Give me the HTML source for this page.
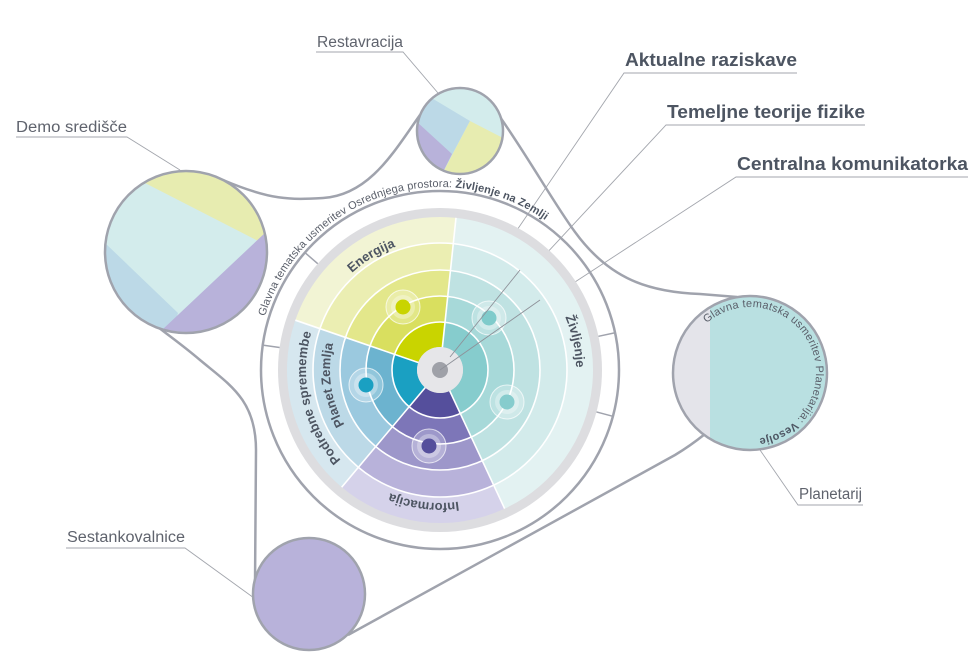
<!DOCTYPE html>
<html><head><meta charset="utf-8"><style>
html,body{margin:0;padding:0;background:#fff;}
svg{display:block;font-family:"Liberation Sans",sans-serif;}
</style></head><body>
<svg width="980" height="662" viewBox="0 0 980 662" xmlns="http://www.w3.org/2000/svg">
<defs>
<clipPath id="cd"><circle cx="186" cy="252" r="81"/></clipPath>
<clipPath id="cr"><circle cx="460" cy="131" r="43"/></clipPath>
<clipPath id="cp"><circle cx="750" cy="373" r="77"/></clipPath>
<path id="pOuter" d="M265,316.5 A183,183 0 0 1 598.5,278.5"/>
<path id="pEn" d="M309,372.3 A131,131 0 0 1 503.5,255.4"/>
<path id="pZi" d="M482,240.7 A136,136 0 0 1 531,471.1"/>
<path id="pPo" d="M400.8,498.1 A134,134 0 0 1 348.6,272"/>
<path id="pPl" d="M398.8,472 A110,110 0 0 1 372.3,283.3"/>
<path id="pIn" d="M546.2,450 A133,133 0 0 1 317.6,422"/>
<path id="pPlan" d="M706.7,323.2 A66,66 0 1 1 750,439"/>
</defs>

<g stroke="#a3a6ad" stroke-width="0.9" fill="none">
<path d="M797,73 L624,73 L515,233"/>
<path d="M865,125 L666,125 L450,357"/>
<path d="M968,177 L736,177 L440,370"/>
<path d="M316,52 L403,52 L438,93"/>
<path d="M16,137 L127,137 L180,170"/>
<path d="M66,548 L185,548 L254,598"/>
<path d="M863,505 L798,505 L760,450"/>
</g>

<g stroke="#a0a3ad" stroke-width="2.5" fill="none">
<path d="M223,180 C270,200 290,200 323,198 C370,195 395,150 420,115"/>
<path d="M500,117 C530,160 555,205 575,232 C610,280 650,292 700,294 L737,297"/>
<path d="M705,434 Q690,446 675,455 L348,635"/>
<path d="M255,585 L256,450 C256,400 230,385 200,360 C180,343 165,333 153,323"/>
</g>

<g clip-path="url(#cd)">
<rect x="100" y="165" width="175" height="175" fill="#d3ecec"/>
<polygon points="145,183 262,243 280,243 280,160 145,160" fill="#e7ecb0"/>
<polygon points="100,242 104,242 178,313 170,340 100,340" fill="#bcd9e7"/>
<polygon points="266,232 162,330 280,340 280,232" fill="#b8b2da"/>
</g>
<circle cx="186" cy="252" r="81" fill="none" stroke="#a0a3ad" stroke-width="2.5"/>

<g clip-path="url(#cr)">
<rect x="410" y="85" width="100" height="95" fill="#d3ecec"/>
<polygon points="410,85 470,121 443,172 405,172" fill="#bcd9e7"/>
<polygon points="470,121 510,141.6 510,180 439,180" fill="#e7ecb0"/>
<polygon points="405,111 452,154 439,180 405,180" fill="#b8b2da"/>
</g>
<circle cx="460" cy="131" r="43" fill="none" stroke="#a0a3ad" stroke-width="2.5"/>

<g clip-path="url(#cp)">
<rect x="670" y="290" width="170" height="170" fill="#e4e4ea"/>
<rect x="710" y="290" width="130" height="170" fill="#b9e0e1"/>
</g>
<circle cx="750" cy="373" r="77" fill="none" stroke="#a0a3ad" stroke-width="2.5"/>
<text font-size="11" fill="#5a5f6a"><textPath href="#pPlan" textLength="245">Glavna tematska usmeritev Planetarija: <tspan font-weight="bold" fill="#4d5562">Vesolje</tspan></textPath></text>

<circle cx="309" cy="594" r="56" fill="#b8b2da" stroke="#a0a3ad" stroke-width="2.5"/>

<circle cx="440" cy="370" r="179" fill="none" stroke="#a0a3ad" stroke-width="2.5"/>
<circle cx="440" cy="370" r="162" fill="#dddde0"/>
<g fill="none" transform="translate(440,370)">
<g transform="rotate(-84)">
<circle r="35.5" stroke-width="25" stroke="#86cccd" pathLength="360" stroke-dasharray="149 360"/>
<circle r="61" stroke-width="26" stroke="#a7d9d9" pathLength="360" stroke-dasharray="149 360"/>
<circle r="87" stroke-width="26" stroke="#bfe2e2" pathLength="360" stroke-dasharray="149 360"/>
<circle r="113.5" stroke-width="27" stroke="#d3ebeb" pathLength="360" stroke-dasharray="149 360"/>
<circle r="140" stroke-width="26" stroke="#e3f2f2" pathLength="360" stroke-dasharray="149 360"/>
</g>
<g transform="rotate(65)">
<circle r="35.5" stroke-width="25" stroke="#554f9c" pathLength="360" stroke-dasharray="65 360"/>
<circle r="61" stroke-width="26" stroke="#7d76b8" pathLength="360" stroke-dasharray="65 360"/>
<circle r="87" stroke-width="26" stroke="#9d97ca" pathLength="360" stroke-dasharray="65 360"/>
<circle r="113.5" stroke-width="27" stroke="#b8b2da" pathLength="360" stroke-dasharray="65 360"/>
<circle r="140" stroke-width="26" stroke="#d5d2ea" pathLength="360" stroke-dasharray="65 360"/>
</g>
<g transform="rotate(130)">
<circle r="35.5" stroke-width="25" stroke="#1aa0c2" pathLength="360" stroke-dasharray="69 360"/>
<circle r="61" stroke-width="26" stroke="#6cb3cf" pathLength="360" stroke-dasharray="69 360"/>
<circle r="87" stroke-width="26" stroke="#9bc9df" pathLength="360" stroke-dasharray="69 360"/>
<circle r="113.5" stroke-width="27" stroke="#bcd9e7" pathLength="360" stroke-dasharray="69 360"/>
<circle r="140" stroke-width="26" stroke="#d6e7ef" pathLength="360" stroke-dasharray="69 360"/>
</g>
<g transform="rotate(199)">
<circle r="35.5" stroke-width="25" stroke="#c9d400" pathLength="360" stroke-dasharray="77 360"/>
<circle r="61" stroke-width="26" stroke="#d9df5f" pathLength="360" stroke-dasharray="77 360"/>
<circle r="87" stroke-width="26" stroke="#e3e78b" pathLength="360" stroke-dasharray="77 360"/>
<circle r="113.5" stroke-width="27" stroke="#ebeeb2" pathLength="360" stroke-dasharray="77 360"/>
<circle r="140" stroke-width="26" stroke="#f2f4d4" pathLength="360" stroke-dasharray="77 360"/>
</g>
<g stroke="#fff" stroke-width="1.6">
<circle r="48"/><circle r="74"/><circle r="100"/><circle r="127"/>
<line x1="0" y1="0" x2="153" y2="0" transform="rotate(-84)"/>
<line x1="0" y1="0" x2="153" y2="0" transform="rotate(65)"/>
<line x1="0" y1="0" x2="153" y2="0" transform="rotate(130)"/>
<line x1="0" y1="0" x2="153" y2="0" transform="rotate(199)"/>
</g>
<g stroke="#a0a3ad" stroke-width="1.5">
<line x1="162" y1="0" x2="179" y2="0" transform="rotate(-139)"/>
<line x1="162" y1="0" x2="179" y2="0" transform="rotate(188)"/>
<line x1="162" y1="0" x2="179" y2="0" transform="rotate(-12)"/>
<line x1="162" y1="0" x2="179" y2="0" transform="rotate(15)"/>
</g>
<circle r="23" fill="#e6e6e9"/>
<circle r="8" fill="#9fa1a8"/>
</g>

<g>
<g transform="translate(403,307)"><circle r="17" fill="#fff" fill-opacity="0.25" stroke="#fff" stroke-opacity="0.7"/><circle r="12" fill="#fff" fill-opacity="0.3"/><circle r="7.5" fill="#c9d400"/></g>
<g transform="translate(489,318)"><circle r="17" fill="#fff" fill-opacity="0.25" stroke="#fff" stroke-opacity="0.7"/><circle r="12" fill="#fff" fill-opacity="0.3"/><circle r="7.5" fill="#7fcbcb"/></g>
<g transform="translate(507,402)"><circle r="17" fill="#fff" fill-opacity="0.25" stroke="#fff" stroke-opacity="0.7"/><circle r="12" fill="#fff" fill-opacity="0.3"/><circle r="7.5" fill="#86cccd"/></g>
<g transform="translate(366,385)"><circle r="17" fill="#fff" fill-opacity="0.25" stroke="#fff" stroke-opacity="0.7"/><circle r="12" fill="#fff" fill-opacity="0.3"/><circle r="7.5" fill="#1aa0c2"/></g>
<g transform="translate(429,446)"><circle r="17" fill="#fff" fill-opacity="0.25" stroke="#fff" stroke-opacity="0.7"/><circle r="12" fill="#fff" fill-opacity="0.3"/><circle r="7.5" fill="#554f9c"/></g>
</g>

<g stroke="#8e9199" stroke-width="0.9" fill="none">
<path d="M520,270 L450,357"/>
<path d="M540,300 L440,370"/>
</g>

<g fill="#4d5562" font-weight="bold" font-size="13">
<text><textPath href="#pEn" startOffset="50%" text-anchor="middle">Energija</textPath></text>
<text><textPath href="#pZi" startOffset="50%" text-anchor="middle">Življenje</textPath></text>
<text><textPath href="#pPo" startOffset="50%" text-anchor="middle">Podrebne spremembe</textPath></text>
<text><textPath href="#pPl" startOffset="50%" text-anchor="middle">Planet Zemlja</textPath></text>
<text><textPath href="#pIn" startOffset="50%" text-anchor="middle">Informacija</textPath></text>
</g>
<text font-size="11" fill="#5a5f6a"><textPath href="#pOuter" textLength="345">Glavna tematska usmeritev Osrednjega prostora: <tspan font-weight="bold" fill="#4d5562">Življenje na Zemlji</tspan></textPath></text>

<g fill="#4d5562" font-weight="bold" font-size="18.5">
<text x="625" y="66" textLength="172" lengthAdjust="spacingAndGlyphs">Aktualne raziskave</text>
<text x="667" y="118" textLength="198" lengthAdjust="spacingAndGlyphs">Temeljne teorije fizike</text>
<text x="737" y="170" textLength="231" lengthAdjust="spacingAndGlyphs">Centralna komunikatorka</text>
</g>
<g fill="#5f636d" font-size="15.5">
<text x="317" y="47" textLength="86" lengthAdjust="spacingAndGlyphs">Restavracija</text>
<text x="16" y="132" textLength="111" lengthAdjust="spacingAndGlyphs">Demo središče</text>
<text x="67" y="542" textLength="118" lengthAdjust="spacingAndGlyphs">Sestankovalnice</text>
<text x="799" y="499" textLength="63" lengthAdjust="spacingAndGlyphs">Planetarij</text>
</g>
</svg>
</body></html>
